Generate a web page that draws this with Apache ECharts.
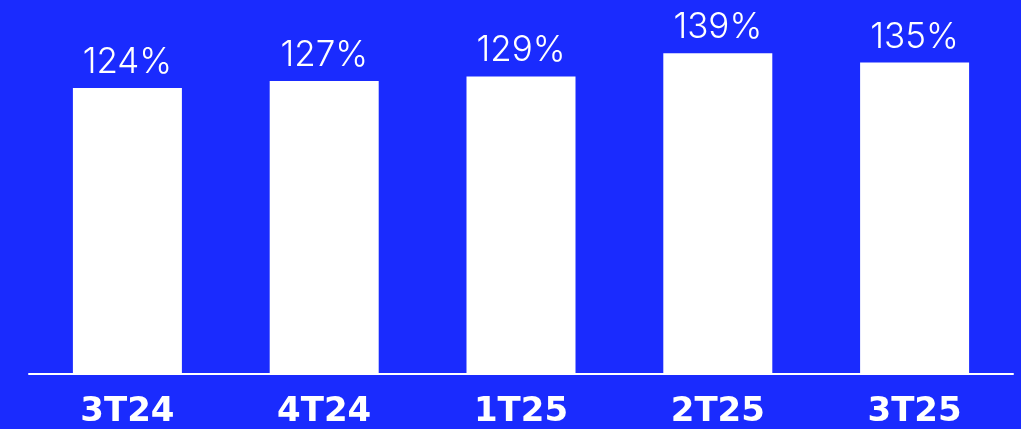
<!DOCTYPE html>
<html>
<head>
<meta charset="utf-8">
<style>
    html, body { margin: 0; padding: 0; background: #1a2bfe; }
    #chart { width: 1021px; height: 429px; }
</style>
<script src="https://cdn.jsdelivr.net/npm/echarts@6/dist/echarts.min.js"></script>
</head>
<body>
<div id="chart"></div>
<script>
var categories = ['3T24', '4T24', '1T25', '2T25', '3T25'];
var values = [124, 127, 129, 139, 135];

var myChart = echarts.init(document.getElementById('chart'));
myChart.setOption({
    backgroundColor: '#1a2bfe',
    animation: false,
    grid: {
        left: 29,
        right: 8,
        top: 28,
        bottom: 54
    },
    xAxis: {
        type: 'category',
        data: categories,
        axisLine: {
            lineStyle: { color: '#ffffff', width: 2 }
        },
        axisTick: { show: false },
        axisLabel: {
            color: '#ffffff',
            fontFamily: 'DejaVu Sans',
            fontWeight: 'bold',
            fontSize: 34,
            margin: 21
        }
    },
    yAxis: {
        type: 'value',
        min: 0,
        max: 150,
        show: false,
        splitLine: { show: false }
    },
    series: [
        {
            type: 'bar',
            data: values,
            barWidth: 109,
            itemStyle: { color: '#ffffff' },
            label: {
                show: true,
                position: 'top',
                distance: 8,
                color: '#ffffff',
                fontFamily: 'Inter',
                fontWeight: 300,
                fontSize: 35,
                formatter: '{c}%'
            }
        }
    ]
});
</script>
</body>
</html>
